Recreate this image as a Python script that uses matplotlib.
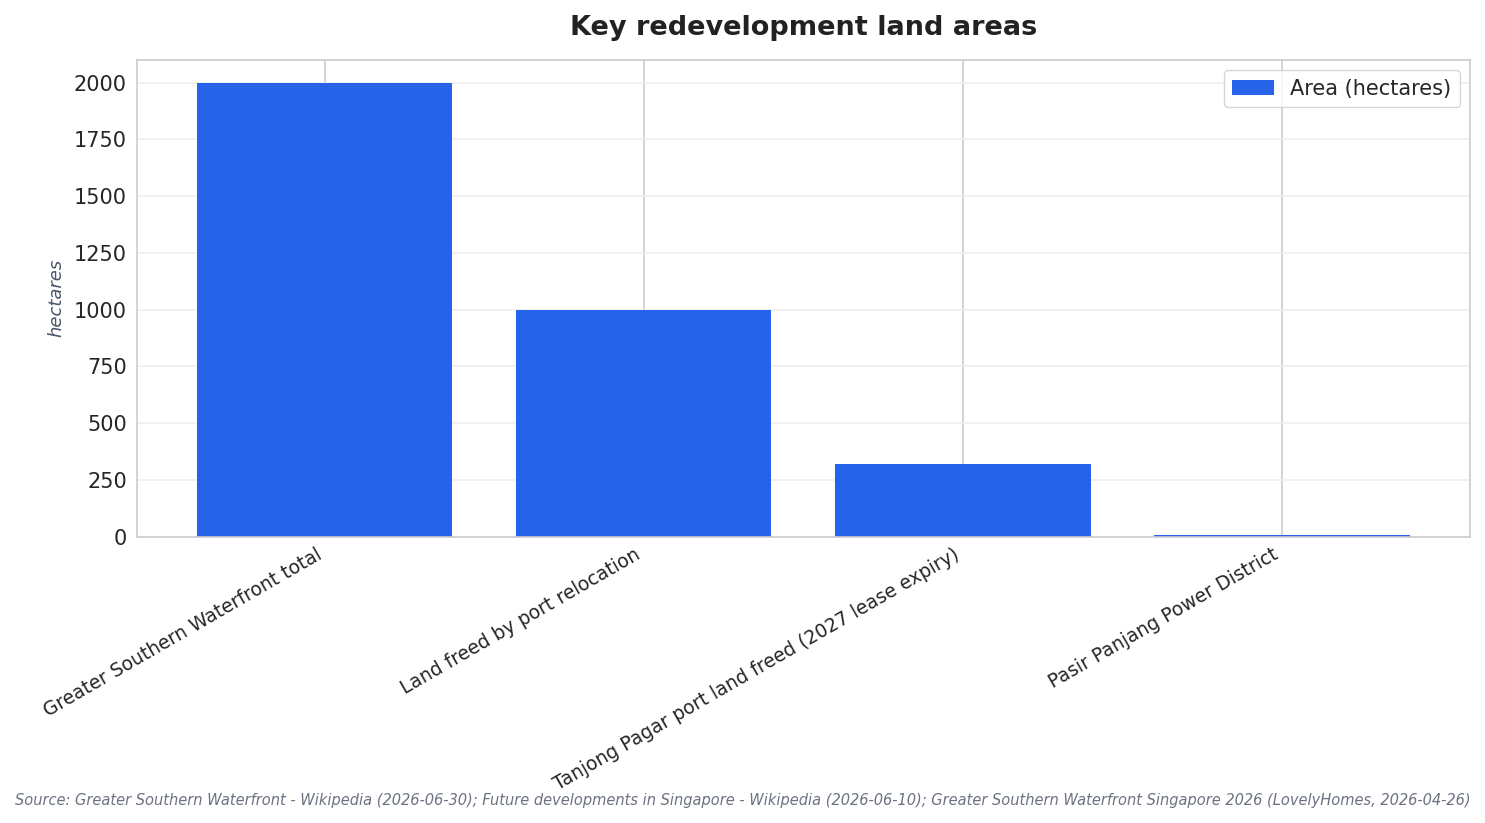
import matplotlib.pyplot as plt
import seaborn as sns

categories = [
    "Greater Southern Waterfront total",
    "Land freed by port relocation",
    "Tanjong Pagar port land freed (2027 lease expiry)",
    "Pasir Panjang Power District",
]
area_ha = [2000, 1000, 320, 8]

sns.set_theme(style="whitegrid")
plt.rcParams['font.family'] = ['DejaVu Sans']

fig, ax = plt.subplots(figsize=(14.85, 8.23), dpi=100)

ax.bar(range(len(categories)), area_ha, width=0.8, color='#2563eb',
       edgecolor='none', linewidth=0, label='Area (hectares)', zorder=2)

ax.set_xticks(range(len(categories)))
ax.set_xticklabels(categories, rotation=30, ha='right', fontsize=13.5)
ax.tick_params(axis='y', labelsize=15, pad=1)
ax.tick_params(axis='x', pad=0)
ax.set_ylim(0, 2100)
ax.set_xlim(-0.59, 3.59)

ax.grid(axis='y', color='#efefef', linewidth=1.2, zorder=0)
ax.grid(axis='x', color='#cccccc', linewidth=1.2, zorder=0)
for s in ax.spines.values():
    s.set_color('#cccccc')
    s.set_linewidth(1.2)

ax.set_ylabel('hectares', fontsize=13, style='italic', color='#475569',
              labelpad=6)
ax.set_title('Key redevelopment land areas', fontsize=19.5, fontweight='bold',
             color='#222222', pad=18)
ax.legend(loc='upper right', fontsize=15)

fig.text(0.5, 0.018,
         'Source: Greater Southern Waterfront - Wikipedia (2026-06-30); Future developments in Singapore - Wikipedia (2026-06-10); Greater Southern Waterfront Singapore 2026 (LovelyHomes, 2026-04-26)',
         ha='center', va='bottom', fontsize=10.5, style='italic', color='#6b7280')

fig.subplots_adjust(left=0.092, right=0.99, top=0.927, bottom=0.348)
fig.savefig('out.png', dpi=100)
